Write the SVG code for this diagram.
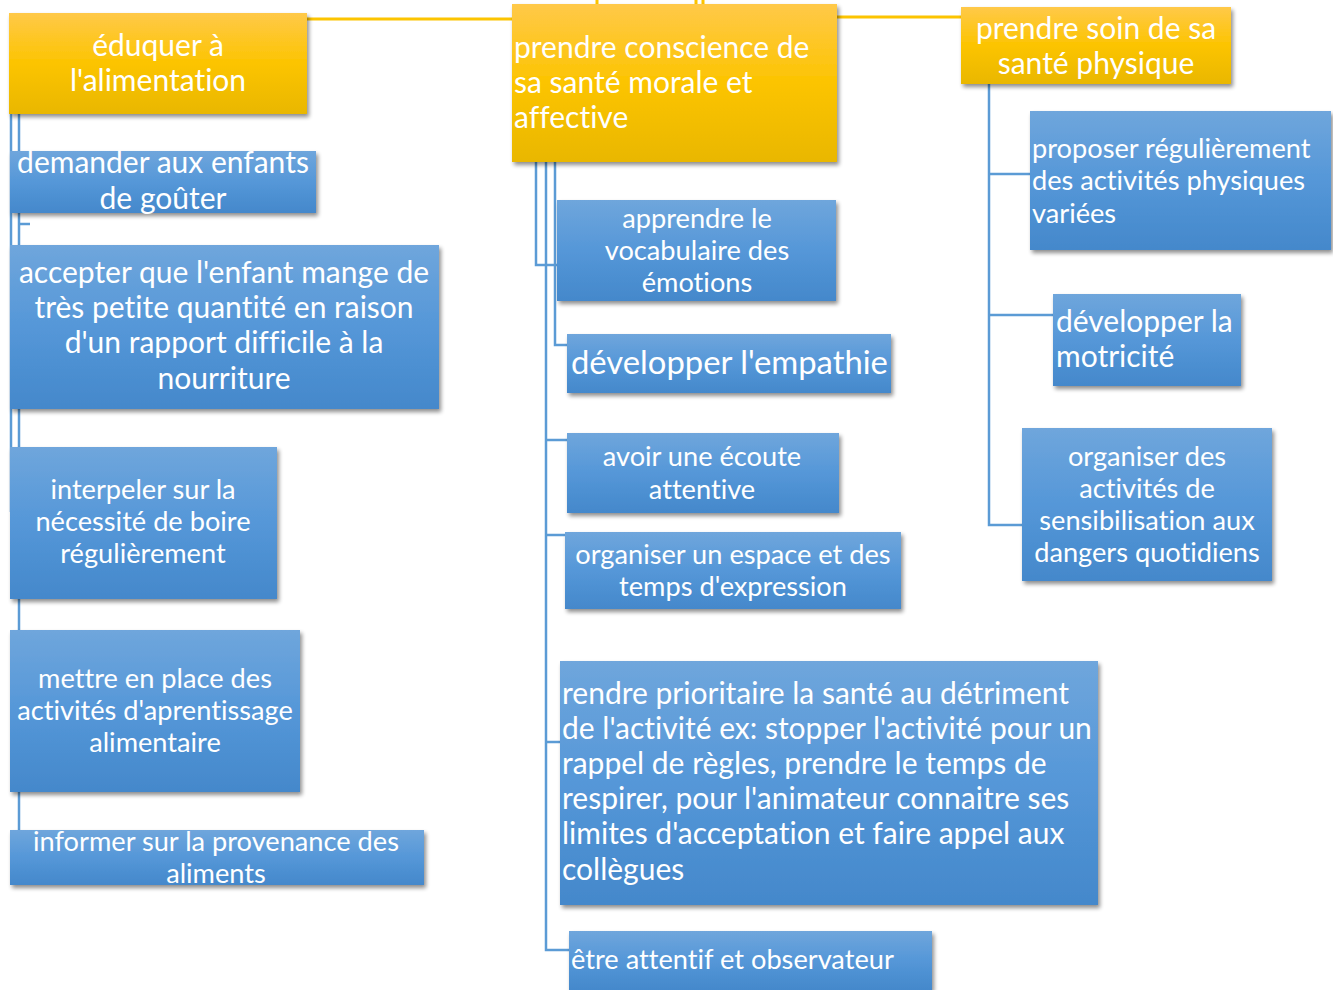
<svg xmlns="http://www.w3.org/2000/svg" width="1333" height="990" viewBox="0 0 1333 990">
<defs>
<linearGradient id="gy" x1="0" y1="0" x2="0" y2="1">
<stop offset="0" stop-color="#ffc949"/><stop offset="0.5" stop-color="#fcc400"/><stop offset="1" stop-color="#e9b700"/>
</linearGradient>
<linearGradient id="gb" x1="0" y1="0" x2="0" y2="1">
<stop offset="0" stop-color="#6fa6dc"/><stop offset="0.5" stop-color="#5597d8"/><stop offset="1" stop-color="#4488cb"/>
</linearGradient>
<filter id="sh" x="-10%" y="-10%" width="130%" height="140%">
<feGaussianBlur in="SourceAlpha" stdDeviation="2"/>
<feOffset dx="2" dy="3" result="o"/>
<feComponentTransfer><feFuncA type="linear" slope="0.45"/></feComponentTransfer>
<feMerge><feMergeNode/><feMergeNode in="SourceGraphic"/></feMerge>
</filter>
</defs>
<style>
.y{fill:url(#gy);filter:url(#sh)}
.b{fill:url(#gb);filter:url(#sh)}
text{font-family:Lato,"Open Sans",sans-serif;fill:#ffffff;font-variant-ligatures:none;font-feature-settings:"liga" 0,"dlig" 0,"clig" 0}
.c{text-anchor:middle}
.f28{font-size:30px}
.f25{font-size:27.2px}
.f30{font-size:32.8px}
.lb{stroke:#5b9bd5;stroke-width:2.5;fill:none}
.ly{stroke:#fcc400;stroke-width:3;fill:none}
</style>
<g id="connectors">
<path class="ly" d="M307 19H512M837 17H961M597 0V5M696 0V5M703 0V5"/>
<path class="lb" d="M11 114V512M19 114V830M19 224H30"/>
<path class="lb" d="M536 162V265H557M555 162V345H567M546 162V950H569M546 440H567M546 535H565M546 742H560"/>
<path class="lb" d="M989 84V525H1022M989 174H1030M989 315H1053"/>
</g>
<g id="n1"><rect class="y" x="9" y="13" width="298" height="101"/>
<text class="c f28" x="158"><tspan x="158" y="56">éduquer à</tspan><tspan x="158" y="91">l'alimentation</tspan></text></g>
<g id="n2"><rect class="y" x="512" y="4" width="325" height="158"/>
<text class="f28"><tspan x="514" y="58">prendre conscience de</tspan><tspan x="514" y="93">sa santé morale et</tspan><tspan x="514" y="128">affective</tspan></text></g>
<g id="n3"><rect class="y" x="961" y="7" width="270" height="77"/>
<text class="c f28"><tspan x="1096" y="39">prendre soin de sa</tspan><tspan x="1096" y="74">santé physique</tspan></text></g>
<g id="n4"><rect class="b" x="10" y="151" width="306" height="62"/>
<text class="c f28"><tspan x="163" y="173">demander aux enfants</tspan><tspan x="163" y="209">de goûter</tspan></text></g>
<g id="n5"><rect class="b" x="10" y="245" width="429" height="164"/>
<text class="c f28"><tspan x="224" y="283">accepter que l'enfant mange de</tspan><tspan x="224" y="318">très petite quantité en raison</tspan><tspan x="224" y="353">d'un rapport difficile à la</tspan><tspan x="224" y="389">nourriture</tspan></text></g>
<g id="n6"><rect class="b" x="10" y="447" width="267" height="152"/>
<text class="c f25"><tspan x="143" y="499">interpeler sur la</tspan><tspan x="143" y="531">nécessité de boire</tspan><tspan x="143" y="563">régulièrement</tspan></text></g>
<g id="n7"><rect class="b" x="10" y="630" width="290" height="162"/>
<text class="c f25"><tspan x="155" y="688">mettre en place des</tspan><tspan x="155" y="720">activités d'aprentissage</tspan><tspan x="155" y="752">alimentaire</tspan></text></g>
<g id="n8"><rect class="b" x="10" y="830" width="414" height="55"/>
<text class="c f25"><tspan x="216" y="851">informer sur la provenance des</tspan><tspan x="216" y="883">aliments</tspan></text></g>
<g id="n9"><rect class="b" x="557" y="200" width="279" height="101"/>
<text class="c f25"><tspan x="697" y="228">apprendre le</tspan><tspan x="697" y="260">vocabulaire des</tspan><tspan x="697" y="292">émotions</tspan></text></g>
<g id="n10"><rect class="b" x="567" y="334" width="324" height="59"/>
<text class="f30" x="571" y="374">développer l'empathie</text></g>
<g id="n11"><rect class="b" x="567" y="433" width="272" height="80"/>
<text class="c f25"><tspan x="702" y="466">avoir une écoute</tspan><tspan x="702" y="499">attentive</tspan></text></g>
<g id="n12"><rect class="b" x="565" y="532" width="336" height="77"/>
<text class="c f25"><tspan x="733" y="564">organiser un espace et des</tspan><tspan x="733" y="596">temps d'expression</tspan></text></g>
<g id="n13"><rect class="b" x="560" y="661" width="538" height="244"/>
<text class="f28"><tspan x="562" y="704">rendre prioritaire la santé au détriment</tspan><tspan x="562" y="739">de l'activité ex: stopper l'activité pour un</tspan><tspan x="562" y="774">rappel de règles, prendre le temps de</tspan><tspan x="562" y="809">respirer, pour l'animateur connaitre ses</tspan><tspan x="562" y="844">limites d'acceptation et faire appel aux</tspan><tspan x="562" y="880">collègues</tspan></text></g>
<g id="n14"><rect class="b" x="569" y="931" width="363" height="59"/>
<text class="f25" x="571" y="969">être attentif et observateur</text></g>
<g id="n15"><rect class="b" x="1030" y="111" width="301" height="139"/>
<text class="f25"><tspan x="1032" y="158">proposer régulièrement</tspan><tspan x="1032" y="190">des activités physiques</tspan><tspan x="1032" y="223">variées</tspan></text></g>
<g id="n16"><rect class="b" x="1053" y="294" width="188" height="92"/>
<text class="f28"><tspan x="1056" y="332">développer la</tspan><tspan x="1056" y="367">motricité</tspan></text></g>
<g id="n17"><rect class="b" x="1022" y="428" width="250" height="153"/>
<text class="c f25"><tspan x="1147" y="466">organiser des</tspan><tspan x="1147" y="498">activités de</tspan><tspan x="1147" y="530">sensibilisation aux</tspan><tspan x="1147" y="562">dangers quotidiens</tspan></text></g>
</svg>
